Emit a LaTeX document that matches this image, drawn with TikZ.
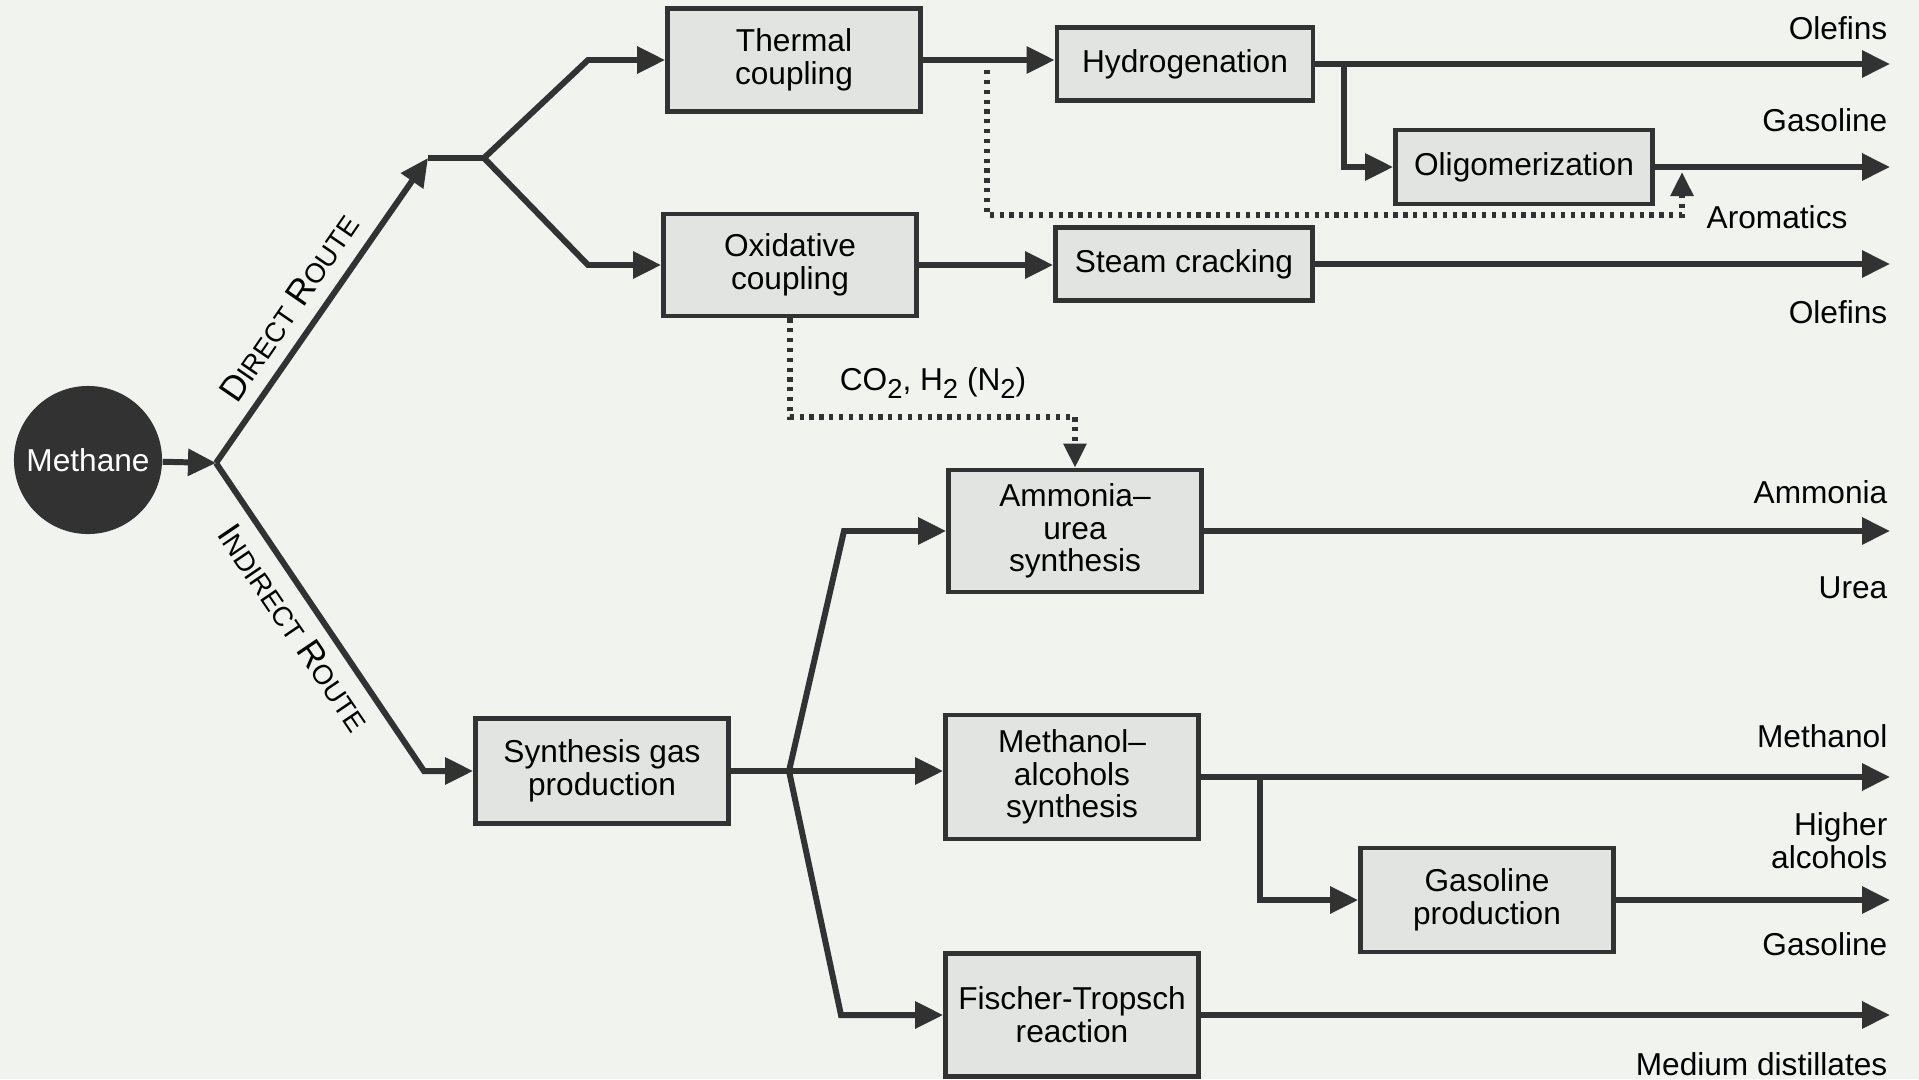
\documentclass[tikz,border=0pt]{standalone}
\usepackage{fontspec}
\setmainfont{Liberation Sans}
\usetikzlibrary{positioning, arrows.meta}
\definecolor{FlowGray}{RGB}{50,50,50}
\definecolor{BoxGray}{RGB}{226,228,225}
\definecolor{PaperGray}{RGB}{241,243,239}
\newcommand{\capD}{\fontsize{10}{10}\selectfont}
\newcommand{\capS}{\fontsize{7.8}{7.8}\selectfont}
\newcommand{\lowsub}[1]{\raisebox{-0.45ex}{\fontsize{7.8}{7.8}\selectfont #1}}

\begin{document}
\begin{tikzpicture}[x=0.01cm, y=-0.01cm, font=\fontsize{9}{9.3}\selectfont]
        \tikzstyle{box} = [rectangle, draw=FlowGray, fill=BoxGray, line width=1.3pt,
          minimum width=2.53cm, align=center, inner sep=0pt]
        \tikzstyle{pipe} = [draw=FlowGray, line width=1.7pt]
        \tikzstyle{flow} = [pipe, -{Triangle[length=0.28cm, width=0.26cm]}]
        \tikzstyle{feed} = [draw=FlowGray, line width=1.6pt, dash pattern=on 1.2pt off 1.6pt,
          -{Triangle[length=0.24cm, width=0.22cm]}]
        \tikzstyle{outlbl} = [anchor=east, align=right, inner sep=0pt]

        \path[use as bounding box, fill=PaperGray] (0,0) rectangle (1919,1079);

        \node[circle, fill=FlowGray, text=white, minimum size=1.48cm, inner sep=0pt] (methane) at (88,460) {Methane};
        \node[box, minimum height=1.03cm] (thermal) at (794,60) {Thermal\\coupling};
        \node[box, minimum height=1.02cm] (oxid) at (790,265) {Oxidative\\coupling};
        \node[box, minimum height=0.73cm, minimum width=2.56cm] (hydro) at (1185,64) {Hydrogenation};
        \node[box, minimum height=0.74cm, minimum width=2.57cm] (oligo) at (1524,167) {Oligomerization};
        \node[box, minimum height=0.73cm, minimum width=2.57cm] (steam) at (1184,264) {Steam cracking};
        \node[box, minimum height=1.22cm] (ammonia) at (1075,531) {Ammonia--\\urea\\synthesis};
        \node[box, minimum height=1.05cm] (synth) at (602,771) {Synthesis gas\\production};
        \node[box, minimum height=1.24cm] (methanol) at (1072,777) {Methanol--\\alcohols\\synthesis};
        \node[box, minimum height=1.04cm] (gasprod) at (1487,900) {Gasoline\\production};
        \node[box, minimum height=1.23cm] (fischer) at (1072,1015) {Fischer-Tropsch\\reaction};

        \coordinate (split) at (216,463);
        \coordinate (dtop) at (428,158);
        \coordinate (dfork) at (484,158);
        \coordinate (tbend) at (588,60);
        \coordinate (obend) at (588,265);
        \coordinate (itop) at (424,771);
        \coordinate (sfork) at (789,771);
        \coordinate (abend) at (844,531);
        \coordinate (fbend) at (841,1015);
        \coordinate (hbr) at (1344,64);
        \coordinate (mbr) at (1260,777);
        \coordinate (tdot) at (987,70);
        \coordinate (arombend) at (1682,215);
        \coordinate (aromup) at (1682,172);
        \coordinate (cobend) at (1075,417);
        \coordinate (rim) at (1890,0);

        % direct route
        \draw[flow] (methane) -- (split);
        \draw[flow] (split) -- (dtop);
        \draw[pipe] (dtop) -- (dfork);
        \draw[flow] (dfork) -- (tbend) -- (thermal.west);
        \draw[flow] (dfork) -- (obend) -- (oxid.west);
        \draw[flow] (thermal.east) -- (thermal.east -| hydro.west);
        \draw[flow] (oxid.east) -- (oxid.east -| steam.west);
        \draw[flow] (hbr) |- (oligo.west);

        % indirect route
        \draw[flow] (split) -- (itop) -- (synth.west);
        \draw[pipe] (synth.east) -- (sfork);
        \draw[flow] (sfork) -- (abend) -- (ammonia.west);
        \draw[flow] (sfork) -- (sfork -| methanol.west);
        \draw[flow] (sfork) -- (fbend) -- (fischer.west);
        \draw[flow] (mbr) |- (gasprod.west);

        \foreach \n in {hydro, oligo, steam, ammonia, methanol, gasprod, fischer}
          \draw[flow] (\n.east) -- (\n.east -| rim);

        \draw[feed] (tdot) |- (arombend) -- (aromup);
        \draw[feed] (oxid.south) |- (cobend) -- (ammonia.north);

        \node[rotate=55.5] (direct) at (289,308) {{\capD D}{\capS IRECT} {\capD R}{\capS OUTE}};
        \node[rotate=-55.8] (indirect) at (294,628) {{\capD I}{\capS NDIRECT} {\capD R}{\capS OUTE}};
        \node (gases) at (933,383) {CO\lowsub{2}, H\lowsub{2} (N\lowsub{2})};
        \node[anchor=west, inner sep=0pt] (arom) at (1706,217) {Aromatics};

        \foreach \y/\t [count=\i] in {28/Olefins, 120/Gasoline, 312/Olefins, 492/Ammonia, 588/Urea,
            736/Methanol, 841/{Higher\\alcohols}, 944/Gasoline, 1064/Medium distillates}
          \node[outlbl] (prod\i) at (1888,\y) {\t};
      \end{tikzpicture}
\end{document}
